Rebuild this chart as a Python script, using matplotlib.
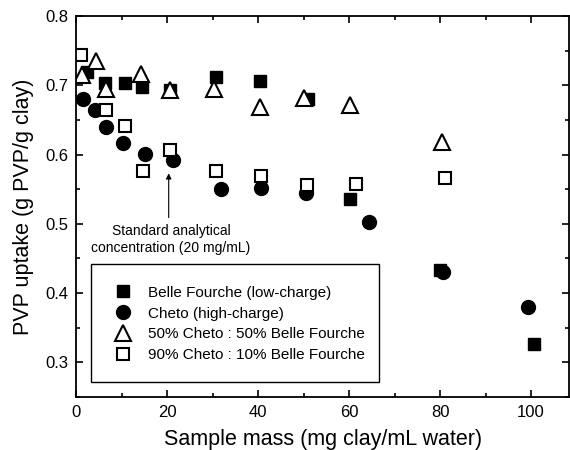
import matplotlib
matplotlib.use('Agg')
import matplotlib.pyplot as plt
from matplotlib.patches import Rectangle
from matplotlib.ticker import MultipleLocator

plt.rcParams['font.family'] = ['Liberation Sans', 'DejaVu Sans']

# Belle Fourche (low-charge)
bf_x = [2.3, 6.3, 10.7, 14.4, 20.6, 30.6, 40.4, 50.9, 60.2, 79.9, 100.6]
bf_y = [0.720, 0.703, 0.703, 0.697, 0.693, 0.712, 0.706, 0.681, 0.536, 0.433, 0.326]

# Cheto (high-charge)
ch_x = [1.4, 4.1, 6.5, 10.3, 15.1, 21.3, 31.8, 40.7, 50.5, 64.4, 80.7, 99.3]
ch_y = [0.681, 0.664, 0.640, 0.617, 0.601, 0.592, 0.551, 0.552, 0.544, 0.502, 0.430, 0.380]

# 50% Cheto : 50% Belle Fourche
m50_x = [1.2, 4.3, 6.5, 14.2, 20.6, 30.3, 40.4, 50.1, 60.2, 80.3]
m50_y = [0.715, 0.735, 0.695, 0.716, 0.693, 0.695, 0.669, 0.682, 0.672, 0.618]

# 90% Cheto : 10% Belle Fourche
m90_x = [1.0, 6.5, 10.7, 14.6, 20.6, 30.6, 40.6, 50.8, 61.6, 81.0]
m90_y = [0.744, 0.664, 0.642, 0.577, 0.606, 0.577, 0.569, 0.556, 0.558, 0.566]

fig = plt.figure(figsize=(5.7, 4.5), dpi=100)
ax = fig.add_axes([0.134, 0.118, 0.864, 0.846])

ax.plot(bf_x, bf_y, 's', ms=9, color='black', mec='black',
        label='Belle Fourche (low-charge)')
ax.plot(ch_x, ch_y, 'o', ms=10, color='black', mec='black',
        label='Cheto (high-charge)')
ax.plot(m50_x, m50_y, '^', ms=11, mfc='white', mec='black', mew=1.5,
        label='50% Cheto : 50% Belle Fourche')
ax.plot(m90_x, m90_y, 's', ms=9, mfc='white', mec='black', mew=1.5,
        label='90% Cheto : 10% Belle Fourche')

ax.set_xlim(0, 108.3)
ax.set_ylim(0.25, 0.8)
ax.xaxis.set_major_locator(MultipleLocator(20))
ax.xaxis.set_minor_locator(MultipleLocator(10))
ax.yaxis.set_major_locator(MultipleLocator(0.1))
ax.yaxis.set_minor_locator(MultipleLocator(0.05))
ax.tick_params(which='both', direction='in', top=True, right=True,
               labelsize=12, pad=6)
ax.tick_params(which='major', length=5, width=1.2)
ax.tick_params(which='minor', length=3, width=1.2)
for s in ax.spines.values():
    s.set_linewidth(1.3)

ax.set_xlabel('Sample mass (mg clay/mL water)', fontsize=15.5, labelpad=6)
ax.set_ylabel('PVP uptake (g PVP/g clay)', fontsize=15.5, labelpad=8)

# arrow marking the standard concentration
ax.annotate('', xy=(20.3, 0.577), xytext=(20.3, 0.505),
            arrowprops=dict(arrowstyle='-|>', color='black', lw=0.8,
                            mutation_scale=8))
ax.text(20.8, 0.477, 'Standard analytical\nconcentration (20 mg/mL)',
        ha='center', va='center', fontsize=10, linespacing=1.25)

# legend box
ax.add_patch(Rectangle((0.029, 0.039), 0.585, 0.31, transform=ax.transAxes,
                       fill=False, edgecolor='black', lw=1.0, zorder=3))
ax.legend(loc='upper left', bbox_to_anchor=(0.07, 0.292), frameon=False,
          borderpad=0, fontsize=11, labelspacing=0.45, handlelength=1.6,
          handletextpad=0.83, numpoints=1, borderaxespad=0)

fig.savefig('out.png', dpi=100)
